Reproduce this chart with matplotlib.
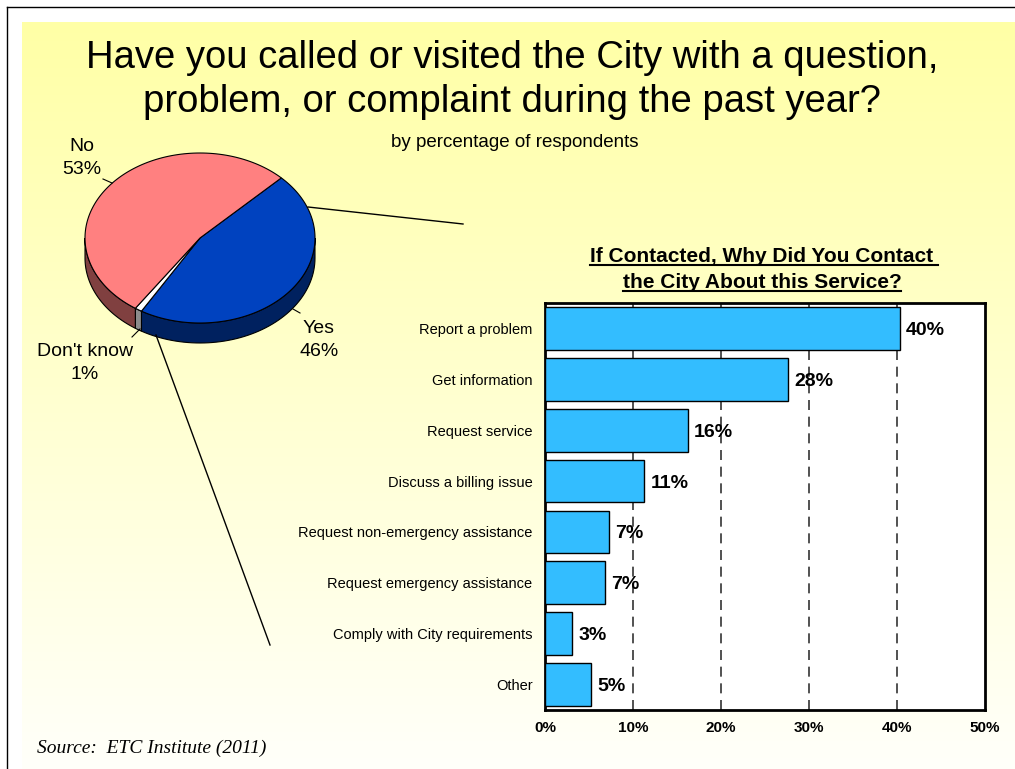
import numpy as np
import matplotlib
matplotlib.use("Agg")
import matplotlib.pyplot as plt
from matplotlib.patches import Polygon

# pie data (start at 45 deg, clockwise)
pie_labels = ["Yes", "Don't know", "No"]
pie_values = [46, 1, 53]
pie_top = ["#0042BF", "#FFFFFF", "#FF8080"]
pie_side = ["#00215F", "#8C8C8C", "#804040"]

# bar data
categories = ["Report a problem", "Get information", "Request service",
              "Discuss a billing issue", "Request non-emergency assistance",
              "Request emergency assistance", "Comply with City requirements", "Other"]
values = [40.3, 27.6, 16.2, 11.3, 7.3, 6.8, 3.1, 5.2]
value_labels = ["40%", "28%", "16%", "11%", "7%", "7%", "3%", "5%"]
xticks = [0, 10, 20, 30, 40, 50]

plt.rcParams['font.family'] = ['Liberation Sans', 'DejaVu Sans']

W, H = 1015, 769
fig = plt.figure(figsize=(W / 100, H / 100), dpi=100)

# background axes in pixel coords
bg = fig.add_axes([0, 0, 1, 1])
bg.set_xlim(0, W)
bg.set_ylim(H, 0)
bg.axis('off')

grad = np.linspace(0, 1, 256)[:, None]
top_c = np.array([255, 255, 166]) / 255
bot_c = np.array([255, 255, 250]) / 255
img = top_c[None, None, :] * (1 - grad[:, :, None]) + bot_c[None, None, :] * grad[:, :, None]
bg.imshow(img, extent=(22, W, H, 22), aspect='auto', zorder=0)
bg.plot([7, 7], [7, H], color='black', lw=1, zorder=1)
bg.plot([7, W], [7, 7], color='black', lw=1, zorder=1)

# titles
bg.text(512, 68, "Have you called or visited the City with a question,", fontsize=27.5,
        ha='center', va='baseline', zorder=5)
bg.text(512, 112, "problem, or complaint during the past year?", fontsize=27.5,
        ha='center', va='baseline', zorder=5)
bg.text(515, 147, "by percentage of respondents", fontsize=13.5, ha='center', va='baseline', zorder=5)
bg.text(37, 753, "Source:  ETC Institute (2011)", fontsize=14, style='italic',
        family='Liberation Serif', ha='left', va='baseline', zorder=5)

# 3D pie
cx, cy, rx, ry, depth = 200, 238, 115, 85, 20


def pt(t, dz=0):
    r = np.radians(t)
    return cx + rx * np.cos(r), cy - ry * np.sin(r) + dz


fracs = np.array(pie_values) / sum(pie_values)
start = 45.0
angles = []
for f in fracs:
    end = start - f * 360
    angles.append((start, end))
    start = end

# side walls (visible part is 180..360 deg)
for (a1, a2), col in zip(angles, pie_side):
    lo, hi = min(a1, a2), max(a1, a2)
    for shift in (0, -360, 360):
        s_lo, s_hi = max(lo + shift, 180), min(hi + shift, 360)
        if s_hi <= s_lo:
            continue
        ts = np.linspace(s_lo, s_hi, 60)
        up = [pt(t) for t in ts]
        dn = [pt(t, depth) for t in ts[::-1]]
        bg.add_patch(Polygon(up + dn, closed=True, fc=col, ec='black', lw=0.8, zorder=2))

# top faces
for (a1, a2), col in zip(angles, pie_top):
    ts = np.linspace(a1, a2, 120)
    verts = [(cx, cy)] + [pt(t) for t in ts]
    bg.add_patch(Polygon(verts, closed=True, fc=col, ec='black', lw=0.8, zorder=3))

# pie labels
pie_lab_pos = {"No": (82, 151), "Yes": (319, 333), "Don't know": (85, 356)}
for lab, v in zip(pie_labels, pie_values):
    x0, y0 = pie_lab_pos[lab]
    bg.text(x0, y0, lab, fontsize=14, ha='center', va='baseline', zorder=5)
    bg.text(x0, y0 + 23, f"{v}%", fontsize=14, ha='center', va='baseline', zorder=5)
bg.plot([103, 112], [179, 183], color='black', lw=0.8, zorder=4)
bg.plot([293, 300], [309, 313], color='black', lw=0.8, zorder=4)
bg.plot([132, 140], [337, 329], color='black', lw=0.8, zorder=4)

# connector lines
bg.plot([308, 463], [207, 224], color='black', lw=1, zorder=4)
bg.plot([156, 270], [335, 645], color='black', lw=1, zorder=4)

# bar chart
ax = fig.add_axes([545 / W, (H - 710) / H, 440 / W, 407 / H])
ax.set_facecolor('white')
y = np.arange(len(categories))
ax.barh(y, values, height=0.84, color='#33BDFF', edgecolor='black', lw=1, zorder=3)
for yi, v, lab in zip(y, values, value_labels):
    ax.text(v + 0.7, yi + 0.04, lab, fontsize=14, fontweight='bold', ha='left', va='center', zorder=4)
ax.set_xlim(0, 50)
ax.set_ylim(len(categories) - 0.5, -0.5)
ax.set_xticks(xticks)
ax.set_xticklabels([f"{t}%" for t in xticks], fontsize=11, fontweight='bold')
ax.set_yticks(y)
ax.set_yticklabels(categories, fontsize=10.5)
ax.tick_params(axis='y', length=0, pad=9)
ax.tick_params(axis='x', length=0, pad=8)
for t in xticks[1:-1]:
    ax.axvline(t, color='#333333', lw=1.2, ls=(0, (6, 4)), zorder=1)
for s in ax.spines.values():
    s.set_linewidth(2)
    s.set_color('black')

# bar chart title, underlined
t1 = bg.text(764, 262, "If Contacted, Why Did You Contact ", fontsize=15, fontweight='bold',
             ha='center', va='baseline', zorder=5)
t2 = bg.text(762, 288, "the City About this Service?", fontsize=15, fontweight='bold',
             ha='center', va='baseline', zorder=5)
fig.canvas.draw()
r = fig.canvas.get_renderer()
for t, yy in ((t1, 265), (t2, 291)):
    bb = t.get_window_extent(r)
    bg.plot([bb.x0, bb.x1], [yy, yy], color='black', lw=1.5, zorder=5)

fig.savefig("out.png", dpi=100)
